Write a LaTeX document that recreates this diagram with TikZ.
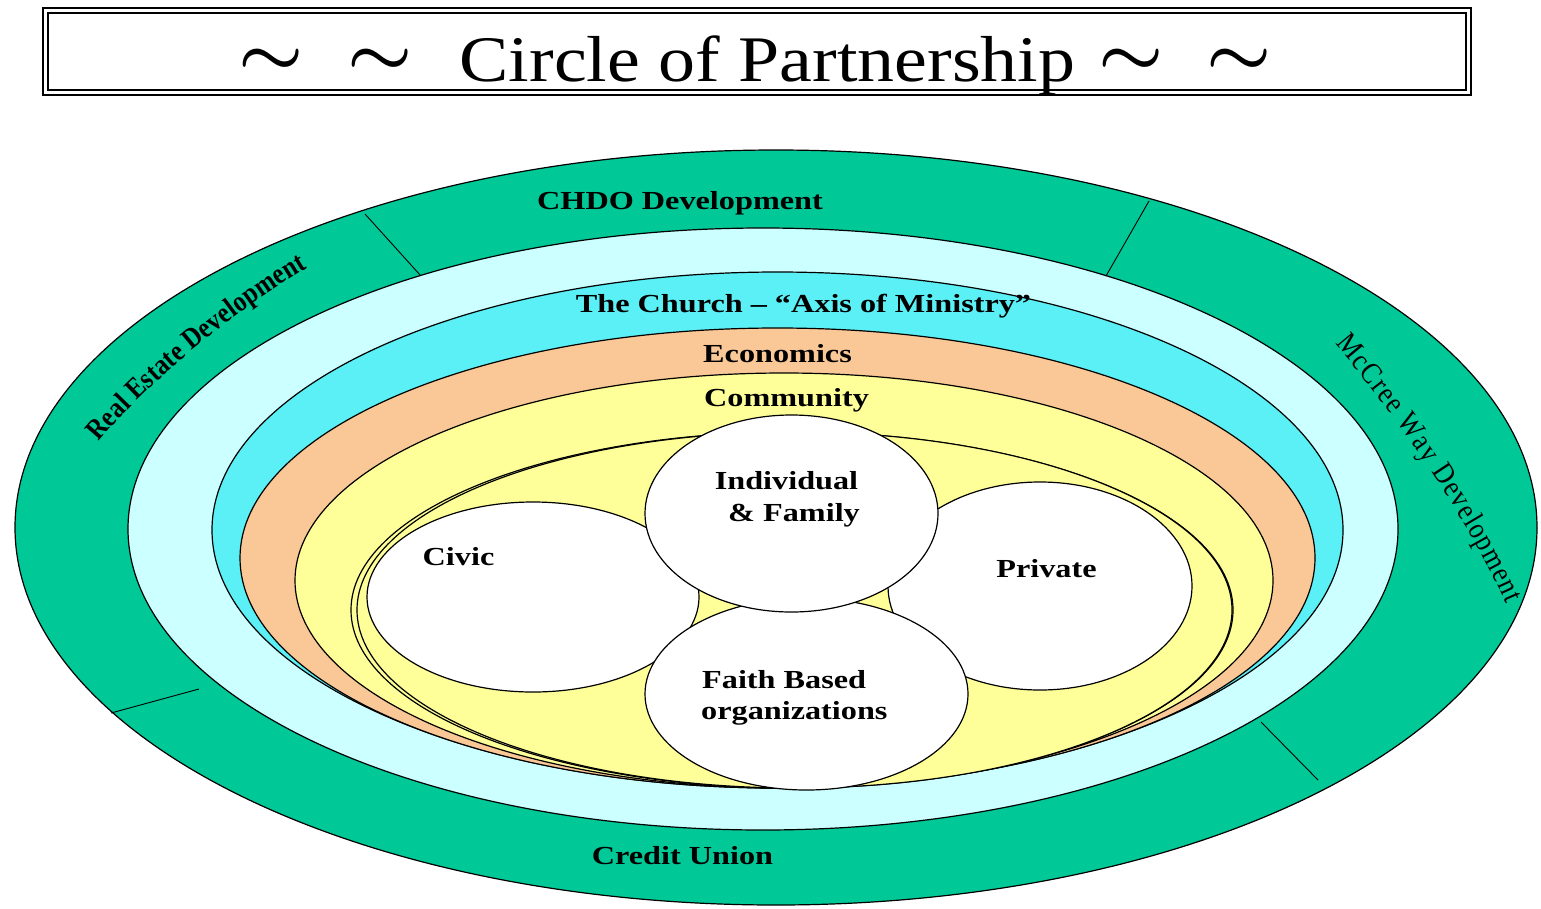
\documentclass[tikz,border=0pt]{standalone}
\usepackage{fontspec}
\setmainfont{Liberation Serif}
\newfontfamily\condserif[FakeStretch=0.86]{Liberation Serif}
\usepackage{graphicx}
\usetikzlibrary{shapes.geometric,decorations.text}
\definecolor{ringgreen}{RGB}{0,200,150}
\definecolor{paleCyan}{RGB}{204,255,255}
\definecolor{aquaC}{RGB}{90,240,245}
\definecolor{peachC}{RGB}{250,200,150}
\definecolor{yellowC}{RGB}{255,255,153}
\newcommand{\hs}[1]{\scalebox{1.24}[1]{#1}}
\newcommand{\bigtilde}{\scalebox{7.3}[6.5]{\boldmath$\sim$}}
\begin{document}
\begin{tikzpicture}[x=1pt,y=-1pt,
  ring/.style={draw=black,line width=1.2pt},
  divider/.style={draw=black,line width=0.9pt},
  blob/.style={ellipse,draw=black,line width=1.2pt,fill=white,inner sep=0pt},
  lbl/.style={font=\bfseries\fontsize{26}{30}\selectfont,inner sep=0pt,anchor=base},
  tld/.style={inner sep=0pt}]
\fill[white] (0,0) rectangle (1541,908);
\useasboundingbox (0,0) rectangle (1541,908);
% title box
\draw[line width=2.4pt] (43,8) rectangle (1471,95);
\draw[line width=1.2pt] (48,13) rectangle (1466,90);
\node[inner sep=0pt,anchor=base,font=\fontsize{65}{70}\selectfont] (title) at (767.5,81) {\scalebox{1.137}[1]{Circle of Partnership}};
\node[tld] (t1) at (271,62) {\bigtilde};
\node[tld] (t2) at (380,62) {\bigtilde};
\node[tld] (t3) at (1131,62) {\bigtilde};
\node[tld] (t4) at (1239,62) {\bigtilde};
% rings
\path[ring,fill=ringgreen] (776,527.5) ellipse [x radius=761, y radius=377.5];
\draw[divider] (365,214) -- (421,276);
\draw[divider] (1149,201) -- (1106,276);
\draw[divider] (111,713) -- (199,689);
\draw[divider] (1261,722) -- (1318,780);
\path[ring,fill=paleCyan] (763,529) ellipse [x radius=635, y radius=301];
\path[ring,fill=aquaC] (777.5,530) ellipse [x radius=565.5, y radius=258];
\path[ring,fill=peachC] (777.5,558) ellipse [x radius=537.5, y radius=230];
\path[ring,fill=yellowC] (784,580.5) ellipse [x radius=489, y radius=207.5];
\path[ring,fill=yellowC] (792,610) ellipse [x radius=441, y radius=178];
\path[ring,fill=yellowC] (794.5,610) ellipse [x radius=437.5, y radius=178];
% inner partners
\node[blob,minimum width=332pt,minimum height=190pt] (civic) at (533,597) {};
\node[blob,minimum width=304pt,minimum height=208pt] (private) at (1040,586) {};
\node[blob,minimum width=323pt,minimum height=192pt] (faith) at (806.5,694) {};
\node[blob,minimum width=293pt,minimum height=197pt] (indiv) at (791.5,513.5) {};
% labels
\node[lbl] (chdo) at (680,209.5) {\hs{CHDO Development}};
\node[lbl] (church) at (803.5,312.5) {\hs{The Church – “Axis of Ministry”}};
\node[lbl] (econ) at (777.5,362.5) {\hs{Economics}};
\node[lbl] (comm) at (786.5,406.5) {\hs{Community}};
\node[lbl] (civicT) at (458.5,565.5) {\hs{Civic}};
\node[lbl] (privT) at (1046.5,577.5) {\hs{Private}};
\node[lbl] (indivT1) at (786.5,489.5) {\hs{Individual}};
\node[lbl] (indivT2) at (794,521.5) {\hs{\& Family}};
\node[lbl,anchor=base west] (faithT1) at (702,688.5) {\hs{Faith Based}};
\node[lbl,anchor=base west] (faithT2) at (701,719.5) {\hs{organizations}};
\node[lbl] (credit) at (682.5,864.5) {\hs{Credit Union}};
% curved labels
\path[decorate,decoration={text along path,
  text={|\condserif\bfseries\fontsize{29}{29}\selectfont|Real Estate Development},
  text align=fit to path}]
  (99,442) .. controls (150,380) and (237,310) .. (307,268);
\path[decorate,decoration={text along path,
  text={|\condserif\fontsize{30}{30}\selectfont|McCree Way Development},
  text align=fit to path}]
  (1335,344) .. controls (1393,412) and (1470,520) .. (1506,604);
\end{tikzpicture}
\end{document}
